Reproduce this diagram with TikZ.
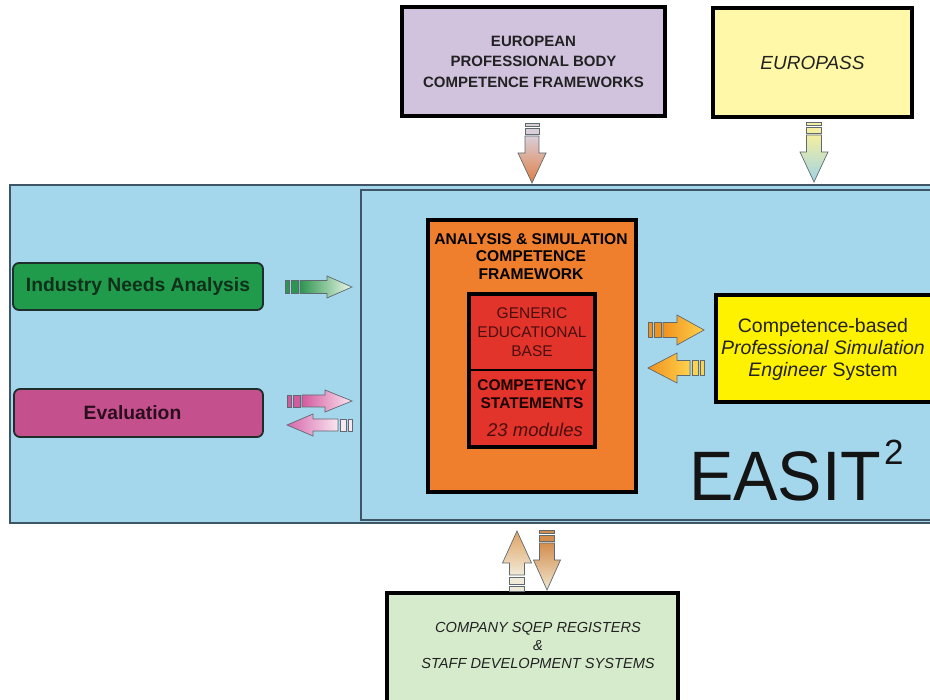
\documentclass[tikz,border=0pt]{standalone}
\usepackage{fontspec}
\setmainfont{Liberation Sans}
\definecolor{panelblue}{HTML}{A4D6EC}
\definecolor{panelline}{HTML}{3E5565}
\definecolor{purplefill}{HTML}{D1C2DD}
\definecolor{europassfill}{HTML}{FFF8A8}
\definecolor{orangefill}{HTML}{EF7F2C}
\definecolor{redfill}{HTML}{E2342B}
\definecolor{engfill}{HTML}{FFF200}
\definecolor{greenfill}{HTML}{1F9B4B}
\definecolor{pinkfill}{HTML}{C4508D}
\definecolor{bottomfill}{HTML}{D6EBCB}
\definecolor{darkred}{HTML}{4A0E0E}
\definecolor{textgray}{HTML}{222222}
\definecolor{greentext}{HTML}{10301A}
\definecolor{pinktext}{HTML}{2A0E1E}
\definecolor{roundedge}{HTML}{1E2E2A}
\definecolor{arrowedge}{HTML}{5F6A70}
% arrow colours
\definecolor{puTail}{HTML}{DACED8}
\definecolor{puTip}{HTML}{E07E44}
\definecolor{euTail}{HTML}{F4EFA0}
\definecolor{euTip}{HTML}{9FD3E6}
\definecolor{grTail}{HTML}{2E9550}
\definecolor{grTip}{HTML}{EEF8EA}
\definecolor{pkTail}{HTML}{D35A9E}
\definecolor{pkTip}{HTML}{FBE6F1}
\definecolor{pkTailB}{HTML}{F8E6F0}
\definecolor{pkTipB}{HTML}{D866AC}
\definecolor{orTail}{HTML}{F0921E}
\definecolor{orTip}{HTML}{FFD24C}
\definecolor{btTailU}{HTML}{F0EAD8}
\definecolor{btTipU}{HTML}{E0A262}
\definecolor{btTailD}{HTML}{D38E4E}
\definecolor{btTipD}{HTML}{F0E6CF}
\tikzset{
  sastripe/.store in=\saS, sashaft/.store in=\saB, sahead/.store in=\saH,
  sahw/.store in=\saw, sahhw/.store in=\saW, satail/.store in=\saT, satip/.store in=\saP,
  arrowline/.style={draw=arrowedge, line width=0.7pt, line join=miter},
  box/.style={draw=black, line width=3.8pt, inner sep=0pt, outer sep=0pt, align=center},
  roundbox/.style={draw=roundedge, line width=1.8pt, rounded corners=6pt, inner sep=0pt, outer sep=0pt, align=center},
  panel/.style={draw=panelline, line width=1.3pt, fill=panelblue, inner sep=0pt, outer sep=0pt},
  txt/.style={inner sep=0pt, outer sep=0pt, align=center}
}
\newcommand\sarr[4]{%
  \begin{scope}[shift={#1}, rotate=#2, #4]
    \path[arrowline, fill=\saT] (0,-\saw) rectangle ({0.28*\saS},\saw);
    \path[arrowline, fill=\saT] ({0.42*\saS},-\saw) rectangle ({0.86*\saS},\saw);
    \path[arrowline, top color=\saT, bottom color=\saP, shading angle=#3]
      (\saS,-\saw) -- ({\saS+\saB},-\saw) -- ({\saS+\saB},-\saW) -- ({\saS+\saB+\saH},0)
      -- ({\saS+\saB},\saW) -- ({\saS+\saB},\saw) -- (\saS,\saw) -- cycle;
  \end{scope}}
\begin{document}
\begin{tikzpicture}[x=1pt,y=-1pt]
\useasboundingbox (0,0) rectangle (930,700);
\begin{scope}
\clip (0,0) rectangle (930,700);
% top boxes
\node[box, fill=purplefill, minimum width=263, minimum height=109, text=textgray,
      font=\fontsize{15}{20.5}\selectfont\bfseries] (epb) at (533.5,61.5)
      {EUROPEAN\\PROFESSIONAL BODY\\COMPETENCE FRAMEWORKS};
\node[box, fill=europassfill, minimum width=199, minimum height=109, text=textgray,
      font=\fontsize{19}{22}\selectfont\itshape] (eup) at (812.5,62.5) {EUROPASS};
% panels
\node[panel, anchor=north west, minimum width=945, minimum height=338] (outer) at (10,185) {};
\node[panel, anchor=north west, minimum width=590, minimum height=330] (inner) at (361,190) {};
% left boxes
\node[roundbox, fill=greenfill, anchor=north west, minimum width=250, minimum height=47,
      text=greentext, font=\fontsize{19.3}{22}\selectfont\bfseries] (ina) at (13,263) {Industry Needs Analysis};
\node[roundbox, fill=pinkfill, anchor=north west, minimum width=249, minimum height=48,
      text=pinktext, font=\fontsize{19.3}{22}\selectfont\bfseries] (eval) at (14,389) {Evaluation\hspace*{12pt}};
% framework
\node[box, line width=3.5pt, fill=orangefill, minimum width=208, minimum height=272] (asf) at (532,356) {};
\node[txt, text=black, font=\fontsize{15.6}{17.5}\selectfont\bfseries] (asft) at (531,256.5)
      {ANALYSIS \& SIMULATION\\COMPETENCE\\FRAMEWORK};
\node[box, line width=3.5pt, fill=redfill, minimum width=126, minimum height=153] (red) at (532,370.5) {};
\coordinate (divy) at (532,370);
\draw[line width=2.5pt] (red.west |- divy) -- (red.east |- divy);
\node[txt, text=darkred, font=\fontsize{15.5}{19}\selectfont] (geb) at (532,332)
      {GENERIC\\EDUCATIONAL\\BASE};
\node[txt, text=black!90!red, font=\fontsize{15.5}{18}\selectfont\bfseries] (cst) at (532,394)
      {COMPETENCY\\STATEMENTS};
\node[txt, text=darkred, font=\fontsize{18.5}{20}\selectfont\itshape] (mods) at (535,430) {23 modules};
% engineer system
\node[box, fill=engfill, anchor=north west, minimum width=225, minimum height=107] (eng) at (716,295) {};
\node[txt, text=textgray, font=\fontsize{19.5}{22}\selectfont] (engt) at (823,349)
      {Competence-based\\\textit{Professional Simulation}\\\textit{Engineer} System};
% EASIT^2
\node[txt, anchor=base west, text=black!92, font=\fontsize{70}{70}\selectfont] (easit) at (689,501)
      {\scalebox{0.95}[1]{EASIT}};
\node[txt, anchor=base west, text=black!92, font=\fontsize{35}{35}\selectfont] (sq) at (884,465) {2};
% bottom box
\node[box, fill=bottomfill, anchor=north west, minimum width=291, minimum height=125] (sqep) at (387,593) {};
\node[txt, text=textgray, font=\fontsize{14.6}{18}\selectfont\itshape] (sqept) at (538,645)
      {COMPANY SQEP REGISTERS\\\&\\STAFF DEVELOPMENT SYSTEMS};
% striped arrows
\sarr{(532,123)}{-90}{0}{sastripe=13, sashaft=17, sahead=30, sahw=7, sahhw=14, satail=puTail, satip=puTip}
\sarr{(814,122)}{-90}{0}{sastripe=13, sashaft=17, sahead=30, sahw=7.5, sahhw=14, satail=euTail, satip=euTip}
\sarr{(285,287)}{0}{90}{sastripe=15, sashaft=27, sahead=25, sahw=6.5, sahhw=11, satail=grTail, satip=grTip}
\sarr{(287,401)}{0}{90}{sastripe=15, sashaft=23, sahead=27, sahw=6, sahhw=11, satail=pkTail, satip=pkTip}
\sarr{(352,425)}{180}{270}{sastripe=14, sashaft=25, sahead=26, sahw=6, sahhw=11, satail=pkTailB, satip=pkTipB}
\sarr{(648,330)}{0}{90}{sastripe=15, sashaft=14, sahead=27, sahw=7.5, sahhw=15, satail=orTail, satip=orTip}
\sarr{(704,368)}{180}{270}{sastripe=14, sashaft=13, sahead=29, sahw=7.5, sahhw=15, satail=orTip, satip=orTail}
\sarr{(517,591)}{90}{180}{sastripe=16, sashaft=12, sahead=32, sahw=7.5, sahhw=14.5, satail=btTailU, satip=btTipU}
\sarr{(547,530)}{-90}{0}{sastripe=13, sashaft=17, sahead=30, sahw=7.5, sahhw=13.5, satail=btTailD, satip=btTipD}
\end{scope}
\end{tikzpicture}
\end{document}
